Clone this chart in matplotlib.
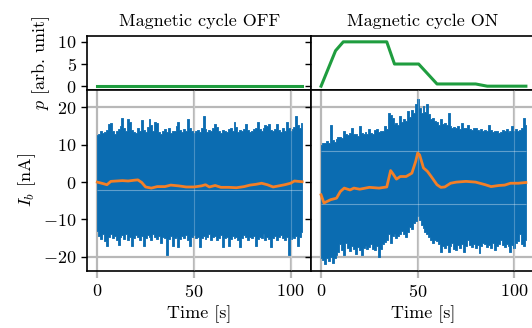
import numpy as np
import matplotlib
matplotlib.use('Agg')
import matplotlib.pyplot as plt

# --- data ---
t_env = np.arange(107)  # 1 s bins, 0..106 s

# envelope of the raw beam current I_b [nA], magnetic cycle OFF
up_off = [12.5, 13.0, 13.8, 13.2, 13.5, 14.0, 15.5, 15.8, 13.6, 13.0,
          13.8, 14.2, 15.0, 17.2, 14.5, 13.6, 16.8, 16.2, 14.0, 13.5,
          13.2, 14.5, 13.8, 16.6, 14.0, 13.5, 14.8, 17.0, 15.2, 13.8,
          16.2, 15.8, 13.5, 13.0, 13.8, 14.2, 13.4, 14.6, 13.2, 13.6,
          13.8, 15.0, 16.2, 14.0, 13.5, 14.2, 13.8, 17.0, 14.5, 13.6,
          13.2, 13.8, 14.0, 13.5, 14.6, 17.6, 14.2, 13.5, 14.0, 13.8,
          14.4, 15.6, 14.8, 13.6, 13.2, 14.0, 13.8, 13.5, 14.2, 14.6,
          13.8, 16.2, 14.8, 13.5, 14.0, 13.6, 14.2, 15.6, 14.0, 13.5,
          13.8, 14.2, 14.6, 16.0, 14.2, 13.8, 14.5, 15.4, 15.0, 15.6,
          14.0, 13.6, 14.2, 15.6, 14.0, 13.4, 14.4, 13.8, 16.2, 14.6,
          13.8, 14.2, 14.8, 17.6, 15.4, 14.6, 15.8]
lo_off = [-13.0, -14.5, -15.2, -14.0, -15.8, -17.2, -14.6, -14.0, -15.0, -14.4,
          -15.6, -16.8, -14.8, -14.2, -15.2, -14.0, -15.4, -14.6, -17.2, -15.0,
          -14.2, -14.8, -15.6, -14.4, -17.2, -15.0, -14.2, -14.6, -15.4, -14.0,
          -14.8, -15.2, -14.4, -16.2, -14.6, -15.0, -19.6, -15.2, -14.4, -17.0,
          -15.0, -14.6, -17.4, -15.2, -14.4, -15.0, -14.2, -15.6, -17.2, -14.8,
          -14.2, -15.0, -14.6, -17.4, -15.0, -14.4, -15.2, -14.6, -14.0, -15.4,
          -14.8, -14.4, -15.6, -15.0, -14.2, -17.4, -15.0, -14.6, -17.0, -15.2,
          -14.4, -15.0, -14.6, -15.6, -17.4, -15.0, -14.2, -14.8, -15.4, -14.6,
          -15.0, -14.4, -17.2, -15.2, -14.6, -15.0, -14.0, -15.4, -14.8, -15.2,
          -17.4, -15.0, -14.4, -15.6, -14.8, -14.2, -15.0, -15.4, -14.6, -19.6,
          -15.2, -14.6, -15.0, -14.4, -17.2, -14.6, -13.4]

# envelope of the raw beam current I_b [nA], magnetic cycle ON
up_on = [10.0, 10.6, 10.4, 11.0, 10.6, 15.4, 11.2, 10.8, 11.6, 12.0,
         12.2, 11.8, 13.6, 13.0, 12.6, 13.2, 14.6, 12.8, 13.0, 12.4,
         15.0, 13.2, 12.8, 13.4, 13.0, 14.2, 13.2, 12.8, 14.0, 14.2,
         13.4, 13.8, 13.6, 15.0, 14.2, 18.6, 18.0, 17.2, 15.6, 15.8,
         15.4, 17.6, 16.2, 16.8, 16.4, 19.0, 17.4, 19.4, 18.6, 20.8,
         22.2, 19.8, 18.4, 20.4, 18.8, 20.8, 18.2, 17.0, 17.2, 16.4,
         16.2, 15.4, 16.8, 15.6, 15.8, 15.2, 18.4, 15.0, 14.6, 14.8,
         14.4, 15.0, 14.2, 15.8, 14.6, 14.4, 15.2, 14.2, 14.0, 14.6,
         14.6, 14.0, 13.8, 14.2, 13.6, 14.0, 13.6, 15.4, 14.0, 13.4,
         13.6, 13.8, 13.2, 13.4, 14.0, 13.6, 14.2, 13.4, 13.8, 15.0,
         13.8, 14.2, 13.6, 14.0, 14.4, 17.2, 15.2]
lo_on = [-20.2, -20.8, -21.8, -20.4, -21.2, -20.0, -21.6, -20.4, -19.6, -18.8,
         -16.6, -18.2, -19.6, -16.2, -17.6, -18.4, -17.2, -18.0, -19.2, -17.4,
         -18.2, -19.6, -17.6, -17.0, -18.0, -17.4, -16.6, -17.8, -18.2, -17.0,
         -20.0, -17.8, -16.6, -16.0, -15.4, -13.8, -16.4, -14.4, -14.0, -15.0,
         -14.4, -13.8, -13.2, -14.0, -14.6, -13.4, -12.0, -12.6, -11.0, -10.4,
         -9.2, -10.2, -11.4, -12.4, -13.4, -13.8, -14.6, -15.6, -16.4, -15.4,
         -15.8, -16.6, -18.6, -17.0, -17.6, -16.8, -18.8, -17.2, -16.4, -17.8,
         -18.2, -16.8, -17.6, -16.6, -18.8, -17.0, -15.6, -16.8, -17.4, -16.6,
         -17.6, -16.8, -19.0, -17.2, -16.4, -16.6, -17.4, -16.8, -17.6, -16.4,
         -18.2, -17.0, -16.6, -15.6, -16.8, -17.4, -16.6, -17.2, -18.6, -16.8,
         -17.6, -16.4, -15.8, -13.8, -16.6, -17.0, -15.6]

# smoothed current (orange)
t_avg_off = [0, 3, 5, 7, 10, 13, 16, 19, 21, 23, 25, 28, 31, 35, 38, 42, 46, 50,
             54, 56, 58, 61, 64, 68, 72, 76, 79, 82, 85, 88, 91, 94, 97, 100, 102, 106]
avg_off = [0.0, -0.4, -0.7, 0.2, 0.3, 0.4, 0.3, 0.5, 0.6, -0.1, -1.3, -1.6, -1.2,
           -1.2, -0.8, -1.0, -1.3, -1.3, -1.0, -0.7, -1.3, -0.9, -1.4, -1.4, -1.5,
           -1.2, -0.8, -0.6, -0.3, -0.7, -1.3, -1.0, -0.7, -0.3, 0.3, 0.1]
t_avg_on = [0, 1.5, 3, 5, 8, 10, 12, 15, 17, 20, 25, 30, 34, 36, 37.5, 39, 41, 44,
            47, 49, 50, 51, 53, 55, 57, 60, 62, 64, 67, 70, 75, 80, 85, 88, 92, 95,
            98, 102, 106]
avg_on = [-3.4, -5.6, -5.2, -4.7, -4.3, -2.5, -1.6, -2.1, -1.6, -1.9, -1.4, -1.6,
          -1.3, 3.1, 2.0, 0.8, 1.5, 1.5, 2.4, 5.6, 7.8, 7.3, 3.8, 2.9, 1.5, -0.7,
          -1.4, -1.3, -0.3, 0.0, 0.2, 0.0, -0.7, -1.2, -0.9, -0.8, -0.3, -0.3, -0.1]

# pressure p [arb. unit]
t_p_off = [0, 106]
p_off = [0, 0]
t_p_on = [0, 7.5, 11.5, 34, 38, 50.5, 60, 80, 86, 106]
p_on = [0, 8, 10, 10, 5, 5, 0.5, 0.5, 0, 0]

faint_off = [-2.0]
faint_on = [8.2, -5.8]
sat_levels = [-20, 20]
x_grid = [0, 50, 100]

titles = ['Magnetic cycle OFF', 'Magnetic cycle ON']

# --- style ---
plt.rcParams['font.family'] = 'cmr10'
plt.rcParams['mathtext.fontset'] = 'cm'
plt.rcParams['axes.formatter.use_mathtext'] = True
plt.rcParams['font.size'] = 13
plt.rcParams['axes.linewidth'] = 1.2

blue = '#0b6cb1'
orange = '#f47f26'
green = '#1f9d3f'
gridc = '#b8b8b8'

fig = plt.figure(figsize=(5.32, 3.28), dpi=100)
lefts = [0.164, 0.5846]
w = 0.4210
ax_p = [fig.add_axes([l, 0.7271, w, 0.1629]) for l in lefts]
ax_i = [fig.add_axes([l, 0.1738, w, 0.5533], sharex=ax_p[k]) for k, l in enumerate(lefts)]

data = [
    (up_off, lo_off, t_avg_off, avg_off, t_p_off, p_off, faint_off),
    (up_on, lo_on, t_avg_on, avg_on, t_p_on, p_on, faint_on),
]

for k, (up, lo, ta, av, tp, pp, faint) in enumerate(data):
    ap, ai = ax_p[k], ax_i[k]

    ap.plot(tp, pp, color=green, lw=2.2)
    ap.set_ylim(-0.75, 11.3)
    ap.set_yticks([0, 5, 10])
    ap.tick_params(axis='x', length=0, labelbottom=False)
    ap.tick_params(axis='y', length=4, width=1.0)
    ap.set_title(titles[k], fontsize=13, pad=7)

    for x in x_grid:
        ai.axvline(x, color=gridc, lw=1.6, zorder=1)
    for y in sat_levels:
        ai.axhline(y, color=gridc, lw=1.6, zorder=1)
    ai.fill_between(t_env, lo, up, step='mid', color=blue, lw=0.6,
                    edgecolor=blue, zorder=2)
    for y in faint:
        ai.hlines(y, t_env[0], t_env[-1], color='white', alpha=0.35, lw=0.8, zorder=3)
    for x in x_grid[1:]:
        ai.axvline(x, color='white', alpha=0.25, lw=0.8, zorder=3)
    ai.plot(ta, av, color=orange, lw=2.0, zorder=4)

    ai.set_xlim(-5.2, 110.7)
    ai.set_ylim(-23.8, 24.8)
    ai.set_xticks(x_grid)
    ai.set_yticks([-20, -10, 0, 10, 20])
    ai.tick_params(axis='x', length=5, width=1.6, color=gridc, labelcolor='black')
    ai.tick_params(axis='y', length=4, width=1.0)
    ai.set_xlabel('Time [s]')

    if k == 1:
        ap.tick_params(axis='y', labelleft=False)
        ai.tick_params(axis='y', labelleft=False)

ax_p[0].set_ylabel(r'$p$ [arb. unit]')
ax_i[0].set_ylabel(r'$I_b$ [nA]')

fig.savefig('out.png', dpi=100)
